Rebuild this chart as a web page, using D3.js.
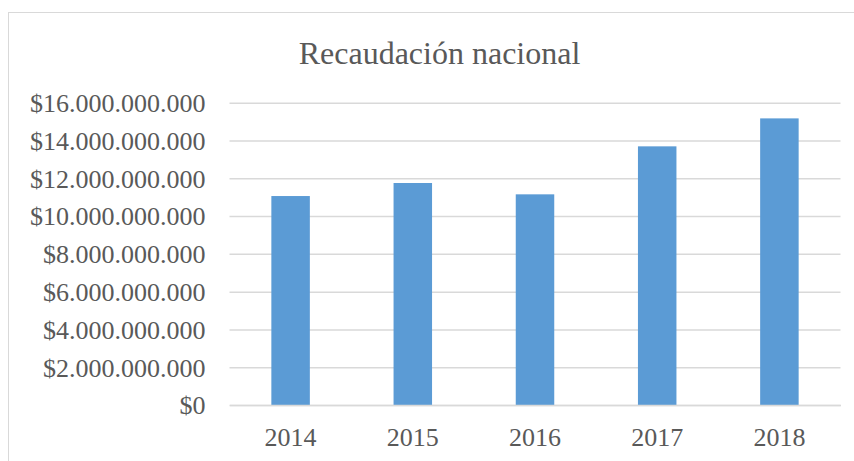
<!DOCTYPE html>
<html>
<head>
<meta charset="utf-8">
<script src="https://cdn.jsdelivr.net/npm/d3@7/dist/d3.min.js"></script>
<style>
  html, body { margin: 0; padding: 0; background: #fff; }
  svg { display: block; }
</style>
</head>
<body>
<svg id="chart" width="854" height="461"></svg>
<script>
const title = "Recaudación nacional";
const years = ["2014", "2015", "2016", "2017", "2018"];
const recaudacion = [11060000000, 11750000000, 11150000000, 13690000000, 15170000000];
const yTicks = [0, 2000000000, 4000000000, 6000000000, 8000000000, 10000000000, 12000000000, 14000000000, 16000000000];

const svg = d3.select("#chart");
const W = 854, H = 461;
const plot = { left: 229.5, right: 840.5, top: 102.7, bottom: 405 };

// chart border (only top and left visible in frame)
svg.append("rect")
  .attr("x", 8.5).attr("y", 12.5)
  .attr("width", 1000).attr("height", 1000)
  .attr("fill", "none").attr("stroke", "#d9d9d9").attr("stroke-width", 1);

const x = d3.scaleBand()
  .domain(years)
  .range([plot.left, plot.right])
  .paddingInner(0.685)
  .paddingOuter(0.3425);

const y = d3.scaleLinear()
  .domain([0, 16000000000])
  .range([plot.bottom, plot.top]);

const fmt = v => "$" + d3.format(",")(v).replace(/,/g, ".");

// gridlines
const yAxis = d3.axisLeft(y)
  .tickValues(yTicks)
  .tickSize(-(plot.right - plot.left))
  .tickPadding(24)
  .tickFormat(fmt);

const gy = svg.append("g")
  .attr("transform", `translate(${plot.left},0)`)
  .call(yAxis);
gy.select(".domain").remove();
gy.selectAll(".tick line").attr("stroke", "#d9d9d9").attr("stroke-width", 1.5);
gy.selectAll(".tick text")
  .attr("fill", "#595959")
  .attr("font-family", "'Liberation Serif', 'Times New Roman', serif")
  .attr("font-size", 26)
  .attr("dy", "0.34em");

// bars
svg.append("g").selectAll("rect")
  .data(years.map((yr, i) => ({ yr, v: recaudacion[i] })))
  .join("rect")
  .attr("x", d => x(d.yr))
  .attr("y", d => y(d.v))
  .attr("width", x.bandwidth())
  .attr("height", d => y(0) - y(d.v))
  .attr("fill", "#5b9bd5");

// x axis
const gx = svg.append("g")
  .attr("transform", `translate(0,${plot.bottom})`)
  .call(d3.axisBottom(x).tickSize(0).tickPadding(32));
gx.select(".domain").attr("stroke", "#d9d9d9").attr("stroke-width", 1.5);
gx.selectAll(".tick text")
  .attr("fill", "#595959")
  .attr("font-family", "'Liberation Serif', 'Times New Roman', serif")
  .attr("font-size", 26)
  .attr("dy", "0.34em");

// title
svg.append("text")
  .attr("x", 439.5).attr("y", 64.3)
  .attr("text-anchor", "middle")
  .attr("fill", "#595959")
  .attr("font-family", "'Liberation Serif', 'Times New Roman', serif")
  .attr("font-size", 32)
  .text(title);
</script>
</body>
</html>
